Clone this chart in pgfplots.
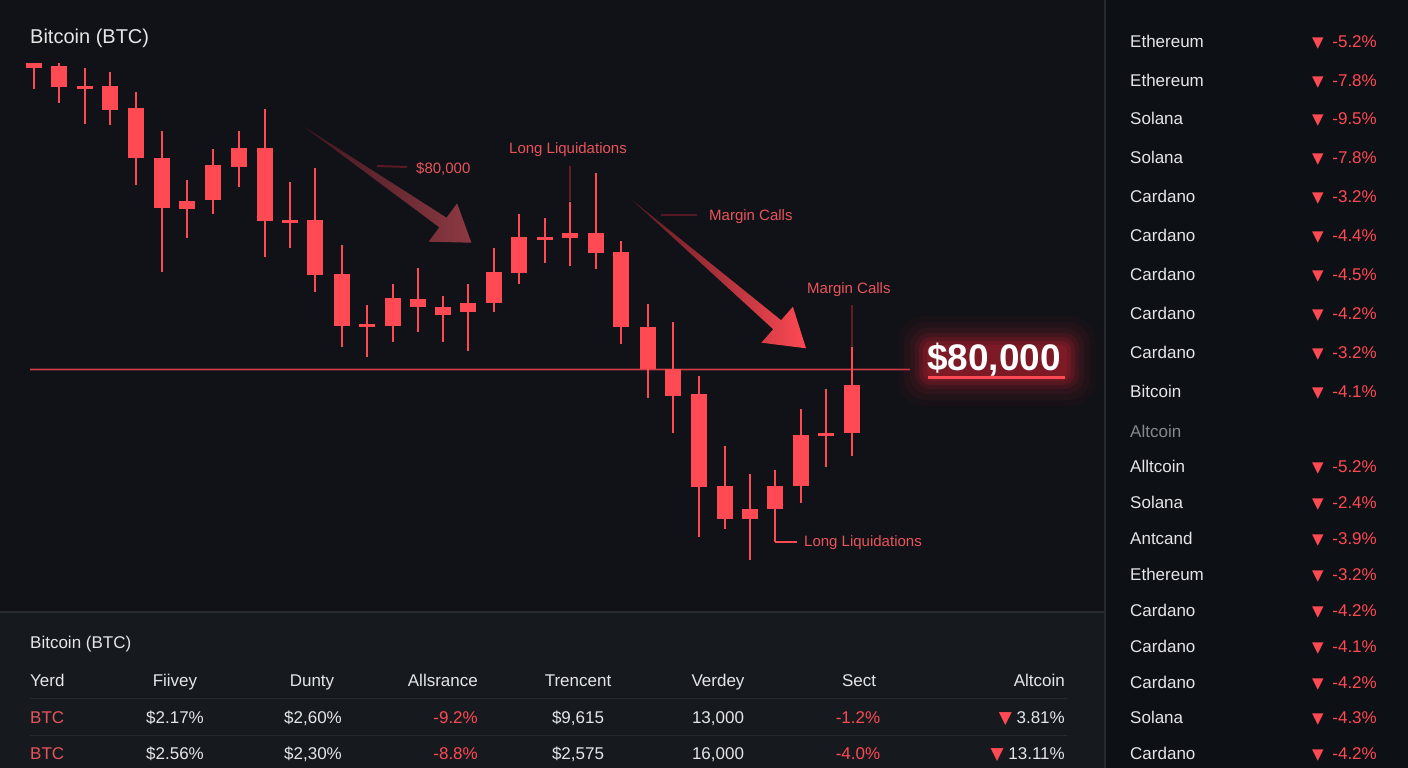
\documentclass[border=0pt]{standalone}
\usepackage{pgfplots}
\pgfplotsset{compat=1.18}
\usepackage{pgfplotstable}
\usepackage{fontspec}
\setmainfont{Liberation Sans}
\newfontfamily\sym{DejaVu Sans}
\definecolor{bgmain}{HTML}{101217}
\definecolor{bgright}{HTML}{0D1015}
\definecolor{bgtable}{HTML}{161A1F}
\definecolor{sepline}{HTML}{272B31}
\definecolor{cRed}{HTML}{FF4953}
\definecolor{annRed}{HTML}{E8545C}
\definecolor{lineRed}{HTML}{D23F48}
\definecolor{txtW}{HTML}{E4E6E8}
\definecolor{txtG}{HTML}{85888D}
\definecolor{glowRed}{HTML}{8A1E2A}
\definecolor{glowHot}{HTML}{B0202E}
\newcommand\fs[1]{\fontsize{#1}{#1}\selectfont}
\newcommand\rowitem[3]{%
  \node[anchor=base west, inner sep=0, text=txtW] at (axis cs:1130,#1) {\fs{17}#2};
  \node[anchor=base east, inner sep=0, text=cRed] at (axis cs:1377,#1) {\fs{17}#3\%};
  \node[anchor=base west, inner sep=0, text=cRed] at (axis cs:1312,#1) {\fs{15}\sym ▼};
}

\pgfplotstableread{
x hi lo bt bb
33.9 63.3 89.3 63.3 67.7
59.3 63 103 66 87
85 68 124 86 88.5
110 72 125 86 110
136 92 185 108 158
161.8 131 272 158 208
186.8 180 238 201 209
212.9 149 214 165 200
238.6 131 187 148 167
264.6 109 257 148 221
290 182 248 219.5 222.5
315.4 168 292 220 275
341.8 245 347 274 326
367 305 357 323.5 326.5
392.9 284 342 298 326
417.9 268 332 299 307
443.2 296 342 307 315
468.2 284 351 303 312
494 248 312 272 303
519 214 284 237 273
544.6 218 263 236.5 240
570 201.7 265.7 232.7 238.3
596 173.3 269.3 232.7 252.7
621.4 240.7 344 252 326.7
647.5 304.3 397.7 326.7 369.3
673 321.7 433.3 369.3 396
699 376 536.7 394.3 486.7
724.6 445.7 529.3 485.7 519
750 474 560 509 519
775 470 541.7 486 509.3
801 408.7 502.7 435 486
826.4 389 466.7 432.5 436
851.8 346.7 456 385 433.3
}\candles

\begin{document}
\begin{tikzpicture}
\begin{axis}[name=ax, scale only axis, width=1408pt, height=768pt,
  xmin=0, xmax=1408, ymin=0, ymax=768, y dir=reverse,
  axis lines=none, ticks=none, clip=false]

% backgrounds
\fill[bgmain] (axis cs:0,0) rectangle (axis cs:1408,768);
\fill[bgright] (axis cs:1105,0) rectangle (axis cs:1408,768);
\fill[bgtable] (axis cs:0,612) rectangle (axis cs:1105,768);
\draw[sepline, line width=1.2pt] (axis cs:1105,0) -- (axis cs:1105,768);
\draw[sepline, line width=1.2pt] (axis cs:0,612) -- (axis cs:1105,612);

% title
\node[anchor=base west, inner sep=0, text=txtW] at (axis cs:30,43.5) {\fs{20}Bitcoin (BTC)};

% $80,000 level line
\draw[lineRed!30!bgmain, line width=3.5pt] (axis cs:30,369.3) -- (axis cs:910,369.3);
\draw[lineRed, line width=1.6pt] (axis cs:30,369.3) -- (axis cs:910,369.3);

% arrows
\shade[left color=bgmain!60!glowRed, right color=glowRed!85!white!90!black]
  (axis cs:303,126) -- (axis cs:446.5,217.7) -- (axis cs:457.1,203.3) -- (axis cs:471.4,242.7) -- (axis cs:428.6,241.7) -- (axis cs:439.3,227.3) -- cycle;
\shade[left color=bgmain!40!glowRed, right color=cRed]
  (axis cs:632,200) -- (axis cs:781.1,320.2) -- (axis cs:792.9,306.7) -- (axis cs:806,348.3) -- (axis cs:761.4,342.7) -- (axis cs:773.2,329.2) -- cycle;

% faint connector lines
\draw[glowRed!60!bgmain, line width=2pt] (axis cs:377,166) -- (axis cs:407,167);
\draw[glowRed!70!bgmain, line width=2pt] (axis cs:570,166) -- (axis cs:570,201);
\draw[glowRed!55!bgmain, line width=2pt] (axis cs:661,215) -- (axis cs:697,215);
\draw[glowRed!70!bgmain, line width=2pt] (axis cs:852,305) -- (axis cs:852,347);
\draw[cRed, line width=1.8pt] (axis cs:775,541.7) -- (axis cs:797,541.7);

% candles: wicks
\addplot[only marks, mark=none, mark options={draw opacity=0, fill opacity=0}, color=cRed, forget plot,
  error bars/.cd, y dir=both, y explicit, error mark=none,
  error bar style={line width=2pt, draw=cRed, draw opacity=1}]
  table[x=x, y expr={(\thisrow{hi}+\thisrow{lo})/2}, y error expr={(\thisrow{lo}-\thisrow{hi})/2}] {\candles};
% candles: bodies
\addplot[only marks, mark=none, mark options={draw opacity=0, fill opacity=0}, color=cRed, forget plot,
  error bars/.cd, y dir=both, y explicit, error mark=none,
  error bar style={line width=16pt, draw=cRed, draw opacity=1}]
  table[x=x, y expr={(\thisrow{bt}+\thisrow{bb})/2}, y error expr={(\thisrow{bb}-\thisrow{bt})/2}] {\candles};

% annotation labels
\node[anchor=base west, inner sep=0, text=annRed] at (axis cs:416,173) {\fs{15}\$80,000};
\node[anchor=base west, inner sep=0, text=annRed] at (axis cs:509,153.5) {\fs{15}Long Liquidations};
\node[anchor=base west, inner sep=0, text=annRed] at (axis cs:709,220) {\fs{15}Margin Calls};
\node[anchor=base west, inner sep=0, text=annRed] at (axis cs:807,293) {\fs{15}Margin Calls};
\node[anchor=base west, inner sep=0, text=annRed] at (axis cs:804,546.5) {\fs{15}Long Liquidations};

% $80,000 highlighted label with soft glow
\fill[glowRed, opacity=0.07, rounded corners=26pt] (axis cs:898,316) rectangle (axis cs:1096,406);
\fill[glowRed, opacity=0.09, rounded corners=22pt] (axis cs:904,322) rectangle (axis cs:1090,400);
\fill[glowRed, opacity=0.12, rounded corners=18pt] (axis cs:910,328) rectangle (axis cs:1084,394);
\fill[glowHot, opacity=0.15, rounded corners=15pt] (axis cs:915,333) rectangle (axis cs:1079,389);
\fill[glowHot, opacity=0.2, rounded corners=12pt] (axis cs:919,337) rectangle (axis cs:1075,385);
\fill[glowHot, opacity=0.25, rounded corners=9pt] (axis cs:923,341) rectangle (axis cs:1071,381);
\fill[glowHot, opacity=0.25, rounded corners=6pt] (axis cs:927,345) rectangle (axis cs:1067,378);
\node[anchor=base west, inner sep=0, text=white] at (axis cs:927,370) {\fs{37}\bfseries \$80,000};
\draw[cRed, line width=3pt] (axis cs:928,377.5) -- (axis cs:1065,377.5);

% bottom table
\node[anchor=base west, inner sep=0, text=txtW] at (axis cs:30,648.5) {\fs{17}Bitcoin (BTC)};
\draw[sepline, line width=1pt] (axis cs:30,698) -- (axis cs:1067,698);
\draw[sepline, line width=1pt] (axis cs:30,735) -- (axis cs:1067,735);
% header
\node[anchor=base west, inner sep=0, text=txtW] at (axis cs:30,686) {\fs{17}Yerd};
\node[anchor=base, inner sep=0, text=txtW] at (axis cs:175,686) {\fs{17}Fiivey};
\node[anchor=base, inner sep=0, text=txtW] at (axis cs:312,686) {\fs{17}Dunty};
\node[anchor=base east, inner sep=0, text=txtW] at (axis cs:478,686) {\fs{17}Allsrance};
\node[anchor=base, inner sep=0, text=txtW] at (axis cs:578,686) {\fs{17}Trencent};
\node[anchor=base, inner sep=0, text=txtW] at (axis cs:718,686) {\fs{17}Verdey};
\node[anchor=base, inner sep=0, text=txtW] at (axis cs:859,686) {\fs{17}Sect};
\node[anchor=base east, inner sep=0, text=txtW] at (axis cs:1065,686) {\fs{17}Altcoin};
% row 1
\node[anchor=base west, inner sep=0, text=annRed] at (axis cs:30,723) {\fs{17}BTC};
\node[anchor=base, inner sep=0, text=txtW] at (axis cs:175,723) {\fs{17}\$2.17\%};
\node[anchor=base, inner sep=0, text=txtW] at (axis cs:313,723) {\fs{17}\$2,60\%};
\node[anchor=base east, inner sep=0, text=cRed] at (axis cs:478,723) {\fs{17}-9.2\%};
\node[anchor=base, inner sep=0, text=txtW] at (axis cs:578,723) {\fs{17}\$9,615};
\node[anchor=base, inner sep=0, text=txtW] at (axis cs:718,723) {\fs{17}13,000};
\node[anchor=base, inner sep=0, text=cRed] at (axis cs:858,723) {\fs{17}-1.2\%};
\node[anchor=base east, inner sep=0, text=txtW] at (axis cs:1065,723) {\fs{17}{\sym\color{cRed}▼} 3.81\%};
% row 2
\node[anchor=base west, inner sep=0, text=annRed] at (axis cs:30,759) {\fs{17}BTC};
\node[anchor=base, inner sep=0, text=txtW] at (axis cs:175,759) {\fs{17}\$2.56\%};
\node[anchor=base, inner sep=0, text=txtW] at (axis cs:313,759) {\fs{17}\$2,30\%};
\node[anchor=base east, inner sep=0, text=cRed] at (axis cs:478,759) {\fs{17}-8.8\%};
\node[anchor=base, inner sep=0, text=txtW] at (axis cs:578,759) {\fs{17}\$2,575};
\node[anchor=base, inner sep=0, text=txtW] at (axis cs:718,759) {\fs{17}16,000};
\node[anchor=base, inner sep=0, text=cRed] at (axis cs:858,759) {\fs{17}-4.0\%};
\node[anchor=base east, inner sep=0, text=txtW] at (axis cs:1065,759) {\fs{17}{\sym\color{cRed}▼} 13.11\%};

% right panel list
\rowitem{47.3}{Ethereum}{-5.2}
\rowitem{86}{Ethereum}{-7.8}
\rowitem{124}{Solana}{-9.5}
\rowitem{163}{Solana}{-7.8}
\rowitem{202}{Cardano}{-3.2}
\rowitem{241}{Cardano}{-4.4}
\rowitem{280}{Cardano}{-4.5}
\rowitem{319}{Cardano}{-4.2}
\rowitem{358}{Cardano}{-3.2}
\rowitem{397}{Bitcoin}{-4.1}
\node[anchor=base west, inner sep=0, text=txtG] at (axis cs:1130,437.5) {\fs{17}Altcoin};
\rowitem{472.5}{Alltcoin}{-5.2}
\rowitem{508}{Solana}{-2.4}
\rowitem{544}{Antcand}{-3.9}
\rowitem{580}{Ethereum}{-3.2}
\rowitem{616}{Cardano}{-4.2}
\rowitem{652}{Cardano}{-4.1}
\rowitem{688}{Cardano}{-4.2}
\rowitem{723.5}{Solana}{-4.3}
\rowitem{759}{Cardano}{-4.2}

\end{axis}
\pgfresetboundingbox
\path (ax.south west) rectangle (ax.north east);
\end{tikzpicture}
\end{document}
